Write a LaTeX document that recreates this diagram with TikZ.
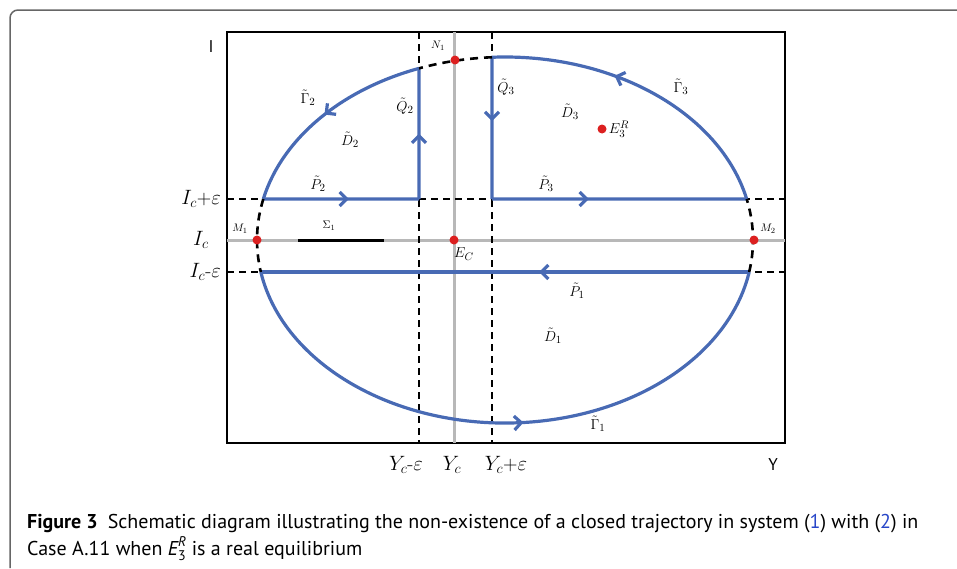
\documentclass[tikz,border=0pt]{standalone}
\usepackage{amsmath}
\usepackage{fontspec}
\setsansfont{PT Sans}
\usetikzlibrary{positioning, arrows.meta, decorations.markings}
\definecolor{trajblue}{RGB}{72,106,180}
\definecolor{eqred}{RGB}{220,32,32}
\definecolor{guidegray}{gray}{0.72}
\definecolor{framegray}{gray}{0.4}
\definecolor{refblue}{RGB}{40,70,200}
\tikzset{
  traj/.style      = {draw=trajblue, line width=3.2pt},
  trajarrow/.style = {postaction={decorate},
                      decoration={markings, mark=at position #1 with
                        {\arrow{Straight Barb[length=7pt,width=14pt]}}}},
  cutline/.style   = {draw=black, line width=1.8pt, dash pattern=on 7pt off 5pt},
  cutarc/.style    = {draw=black, line width=2.6pt, dash pattern=on 8pt off 6pt},
  guide/.style     = {draw=guidegray, line width=3pt},
  eqdot/.style     = {circle, fill=eqred, inner sep=0pt, minimum size=9pt},
  lbl/.style       = {inner sep=0pt, font=\fontsize{15}{15}\selectfont},
  smlbl/.style     = {inner sep=0pt, font=\fontsize{11}{11}\selectfont},
  axlbl/.style     = {inner sep=0pt, font=\fontsize{20}{20}\selectfont},
  caplbl/.style    = {inner sep=0pt, anchor=base west,
                      font=\sffamily\fontsize{20}{23}\selectfont}
}

\begin{document}
\begin{tikzpicture}[x=1pt, y=1pt]
  \useasboundingbox (0,0) rectangle (957,-568);
  % outer frame of the figure
  \draw[framegray, line width=1.5pt, rounded corners=8pt]
        (10,-568) -- (10,-10) -- (957,-10);

  % axes box
  \draw[line width=1.2pt] (227,-32) rectangle (785,-443);
  \node[inner sep=0pt, font=\sffamily\fontsize{17}{17}\selectfont] (Iax) at (211,-47) {I};
  \node[inner sep=0pt, font=\sffamily\fontsize{17}{17}\selectfont] (Yax) at (773,-465) {Y};

  % guide lines through E_C
  \coordinate (O) at (505,-240);
  \draw[guide] (227,-240) -- (785,-240);
  \draw[guide] (454,-32) -- (454,-443);
  \draw[black, line width=3pt] (298,-240) -- (384,-240);

  % epsilon strips
  \draw[cutline] (227,-199) -- (785,-199);
  \draw[cutline] (227,-272) -- (785,-272);
  \draw[cutline] (419,-32) -- (419,-443);
  \draw[cutline] (492,-32) -- (492,-443);

  % points on the ellipse
  \coordinate (p2l) at ([shift={({180-asin(41/183)}:248pt and 183pt)}]O);
  \coordinate (p3r) at ([shift={({asin(41/183)}:248pt and 183pt)}]O);
  \coordinate (p1l) at ([shift={({180+asin(32/183)}:248pt and 183pt)}]O);
  \coordinate (p1r) at ([shift={({-asin(32/183)}:248pt and 183pt)}]O);
  \coordinate (q2t) at ([shift={({acos(-86/248)}:248pt and 183pt)}]O);
  \coordinate (q3t) at ([shift={({acos(-13/248)}:248pt and 183pt)}]O);
  \coordinate (q2b) at (419,-199);
  \coordinate (q3b) at (492,-199);

  % trajectories
  \draw[traj, trajarrow=0.55] (p2l) -- (q2b);
  \draw[traj, trajarrow=0.5] (q2b) -- (q2t);
  \draw[traj, trajarrow=0.5] (q2t) arc[start angle={acos(-86/248)},
        end angle={180-asin(41/183)}, x radius=248pt, y radius=183pt];
  \draw[traj, trajarrow=0.45] (q3t) -- (q3b);
  \draw[traj, trajarrow=0.38] (q3b) -- (p3r);
  \draw[traj, trajarrow=0.6] (p3r) arc[start angle={asin(41/183)},
        end angle={acos(-13/248)}, x radius=248pt, y radius=183pt];
  \draw[traj, trajarrow=0.43] (p1r) -- (p1l);
  \draw[traj, trajarrow=0.53] (p1l) arc[start angle={180+asin(32/183)},
        end angle={360-asin(32/183)}, x radius=248pt, y radius=183pt];

  % dashed pieces of the ellipse
  \draw[cutarc] (p2l) arc[start angle={180-asin(41/183)},
        end angle={180+asin(32/183)}, x radius=248pt, y radius=183pt];
  \draw[cutarc] (p1r) arc[start angle={-asin(32/183)},
        end angle={asin(41/183)}, x radius=248pt, y radius=183pt];
  \draw[cutarc] (q3t) arc[start angle={acos(-13/248)},
        end angle={acos(-86/248)}, x radius=248pt, y radius=183pt];

  % equilibria and special points
  \node[eqdot] (M1) at (257,-240) {};
  \node[eqdot] (M2) at (754,-240) {};
  \node[eqdot] (N1) at (455,-60) {};
  \node[eqdot] (EC) at (454,-240) {};
  \node[eqdot] (E3R) at (602,-129) {};

  \node[smlbl] (M1lbl) at (240,-229) {$M_1$};
  \node[smlbl] (M2lbl) at (768,-229) {$M_2$};
  \node[smlbl] (N1lbl) at (438,-46) {$N_1$};
  \node[lbl]   (EClbl) at (464,-254) {$E_C$};
  \node[lbl, right=2pt of E3R] (E3Rlbl) {$E_3^R$};

  % region and trajectory labels
  \node[lbl] (G2lbl) at (308,-98)  {$\tilde{\Gamma}_2$};
  \node[lbl] (D2lbl) at (350,-140) {$\tilde{D}_2$};
  \node[lbl] (Q2lbl) at (405,-106) {$\tilde{Q}_2$};
  \node[lbl] (Q3lbl) at (506,-87)  {$\tilde{Q}_3$};
  \node[lbl] (D3lbl) at (570,-112) {$\tilde{D}_3$};
  \node[lbl] (G3lbl) at (681,-87)  {$\tilde{\Gamma}_3$};
  \node[lbl] (P2lbl) at (318,-184) {$\tilde{P}_2$};
  \node[lbl] (P3lbl) at (546,-184) {$\tilde{P}_3$};
  \node[smlbl] (S1lbl) at (329,-226) {$\Sigma_1$};
  \node[lbl] (P1lbl) at (577,-291) {$\tilde{P}_1$};
  \node[lbl] (D1lbl) at (553,-336) {$\tilde{D}_1$};
  \node[lbl] (G1lbl) at (598,-424) {$\tilde{\Gamma}_1$};

  % axis values
  \node[axlbl, anchor=east] (Ice1) at (221,-199) {$I_c$+$\varepsilon$};
  \node[axlbl] (Ic) at (201,-240) {$I_c$};
  \node[axlbl, anchor=east] (Ice2) at (221,-272) {$I_c$-$\varepsilon$};
  \node[axlbl] (Yce1) at (406,-465) {$Y_c$-$\varepsilon$};
  \node[axlbl] (Yc) at (452,-465) {$Y_c$};
  \node[axlbl] (Yce2) at (506,-465) {$Y_c$+$\varepsilon$};

  % caption
  \node[caplbl] (cap1) at (27,-528) {\textbf{Figure 3}\hspace{0.5em}Schematic diagram
        illustrating the non-existence of a closed trajectory in system
        ({\color{refblue}1}) with ({\color{refblue}2}) in};
  \node[caplbl] (cap2) at (27,-555) {Case A.11 when
        $\textit{E}^{\textit{R}}_{\text{3}}$ is a real equilibrium};
\end{tikzpicture}
\end{document}
